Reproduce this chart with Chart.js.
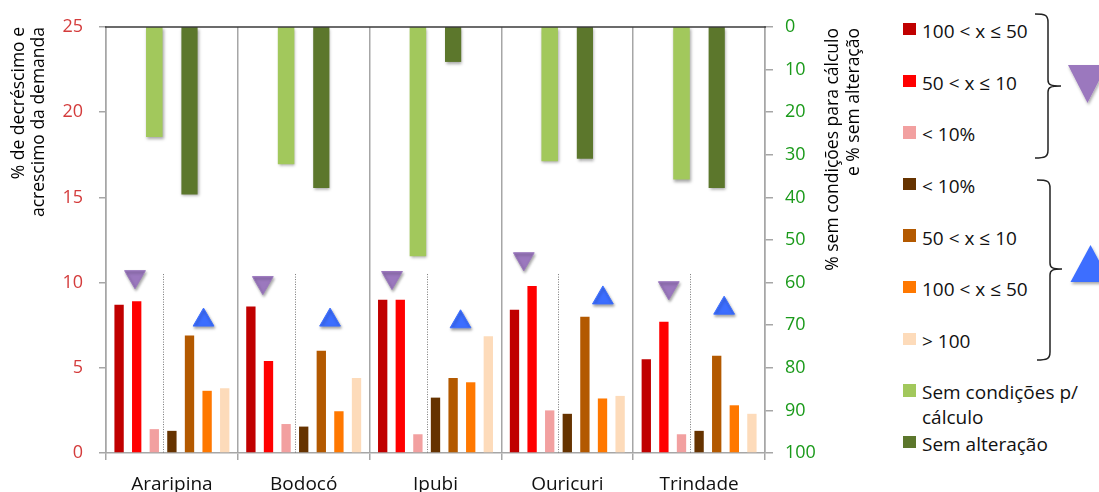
<!DOCTYPE html>
<html lang="pt">
  <head>
    <meta charset="UTF-8" />
    <title>Decréscimo e acréscimo da demanda</title>
    <script src="https://cdn.jsdelivr.net/npm/chart.js"></script>
    <style>
      body { margin: 0; background: #fff; overflow: hidden; font-family: "Open Sans", sans-serif; }
      #wrap { position: relative; width: 1099px; height: 492px; overflow: hidden; }
      #grafico { position: absolute; left: 0; top: 0; }
      .leg-box { position: absolute; left: 903px; width: 12.5px; height: 12.5px; }
      .leg-txt { position: absolute; left: 922px; font-size: 19px; line-height: 25px; color: #111; white-space: nowrap; }
      #titulo-dir {
        position: absolute; left: 821px; top: 328px; width: 300px;
        transform: rotate(-90deg); transform-origin: 0 0;
        text-align: right; font-size: 17.5px; line-height: 21px; color: #000; white-space: nowrap;
      }
      #deco { position: absolute; left: 0; top: 0; }
    </style>
  </head>
  <body>
    <div id="wrap">
      <canvas id="grafico" width="880" height="520"></canvas>
      <div id="titulo-dir">% sem condições para cálculo<br />e % sem alteração</div>
      <div id="legenda"></div>
      <svg id="deco" width="1099" height="492">
        <defs>
          <filter id="sb" x="-20%" y="-20%" width="150%" height="150%">
            <feDropShadow dx="1" dy="2" stdDeviation="1.5" flood-color="#000" flood-opacity="0.35" />
          </filter>
        </defs>
        <path d="M1035 14 C1045 14 1048 15 1048 22 L1048 80 C1048 85 1051 86 1061 86 C1051 86 1048 87 1048 92 L1048 150 C1048 157 1045 158 1035 158"
              fill="none" stroke="#222" stroke-width="1.5" />
        <path d="M1037 180 C1047 180 1050 181 1050 188 L1050 263 C1050 268 1053 269 1062 269 C1053 269 1050 270 1050 275 L1050 352 C1050 359 1047 360 1037 360"
              fill="none" stroke="#222" stroke-width="1.5" />
        <polygon points="1068,65 1107,65 1087.5,103" fill="#9B78BE" filter="url(#sb)" />
        <polygon points="1090.5,245 1110.5,282 1070.5,282" fill="#3C6EFF" filter="url(#sb)" />
      </svg>
    </div>
    <script>
      const municipios = ["Araripina", "Bodocó", "Ipubi", "Ouricuri", "Trindade"];

      // decréscimo da demanda (eixo da esquerda)
      const dec100a50 = [8.7, 8.6, 9.0, 8.4, 5.5];
      const dec50a10 = [8.9, 5.4, 9.0, 9.8, 7.7];
      const decMenor10 = [1.4, 1.7, 1.1, 2.5, 1.1];
      // acréscimo da demanda
      const acrMenor10 = [1.3, 1.55, 3.25, 2.3, 1.3];
      const acr50a10 = [6.9, 6.0, 4.4, 8.0, 5.7];
      const acr100a50 = [3.65, 2.45, 4.15, 3.2, 2.8];
      const acrMaior100 = [3.8, 4.4, 6.85, 3.35, 2.3];

      // eixo da direita (0 no topo, 100 embaixo)
      const semCondicoes = [25.8, 32.2, 53.8, 31.5, 35.8];
      const semAlteracao = [39.3, 37.8, 8.2, 30.9, 37.8];

      // marcadores (triângulos): posição dentro do grupo e altura
      const setaBaixoX = [-0.28, -0.31, -0.33, -0.33, -0.23];
      const setaBaixoY = [10.35, 10.0, 10.3, 11.4, 9.7];
      const setaCimaX = [0.24, 0.2, 0.19, 0.27, 0.19];
      const setaCimaY = [7.8, 7.8, 7.7, 9.1, 8.5];

      const nomes = [
        "100 < x ≤ 50", "50 < x ≤ 10", "< 10%",
        "< 10%", "50 < x ≤ 10", "100 < x ≤ 50", "> 100",
        "Sem condições p/ cálculo", "Sem alteração",
      ];
      const cores = [
        "#C00000", "#FF0000", "#F2A0A0",
        "#663300", "#B35900", "#FF7800", "#FDDBBA",
        "#A2C85C", "#5C772C",
      ];
      const series = [dec100a50, dec50a10, decMenor10, acrMenor10, acr50a10, acr100a50, acrMaior100];

      const fonte = "'Open Sans', sans-serif";
      const Y_MAX = 25, Y2_MAX = 100;
      // converte % do eixo da direita para o eixo da esquerda (barra pendurada no topo)
      const pendurada = (p) => [Y_MAX, Y_MAX - (p * Y_MAX) / Y2_MAX];

      const datasets = series.map((valores, i) => ({
        type: "bar",
        label: nomes[i],
        data: valores,
        backgroundColor: cores[i],
        stack: "s" + i,
        barPercentage: 0.53,
        categoryPercentage: 0.935,
      }));
      datasets.push({
        type: "bar", label: nomes[7], data: semCondicoes.map(pendurada), backgroundColor: cores[7],
        stack: "s2", barPercentage: 0.94, categoryPercentage: 0.935, sombra: true,
      });
      datasets.push({
        type: "bar", label: nomes[8], data: semAlteracao.map(pendurada), backgroundColor: cores[8],
        stack: "s4", barPercentage: 0.92, categoryPercentage: 0.935, sombra: true,
      });
      // triângulos: posição fracionária no próprio eixo de categorias (sem parsing)
      datasets.push({
        type: "line", label: "decréscimo", showLine: false, parsing: false,
        data: municipios.map((m, i) => ({ x: i + setaBaixoX[i], y: setaBaixoY[i] })),
        pointStyle: "triangle", rotation: 180, pointRadius: 12,
        pointBackgroundColor: "#9B78BE", pointBorderColor: "#9B78BE", pointBorderWidth: 1, sombra: true,
      });
      datasets.push({
        type: "line", label: "acréscimo", showLine: false, parsing: false,
        data: municipios.map((m, i) => ({ x: i + setaCimaX[i], y: setaCimaY[i] })),
        pointStyle: "triangle", pointRadius: 12,
        pointBackgroundColor: "#3C6EFF", pointBorderColor: "#3C6EFF", pointBorderWidth: 1, sombra: true,
      });

      // sombra leve nas barras verdes e nos triângulos
      const sombra = {
        id: "sombra",
        beforeDatasetDraw(chart, args) {
          if (!chart.data.datasets[args.index].sombra) return;
          const ctx = chart.ctx;
          ctx.save();
          ctx.shadowColor = "rgba(0,0,0,0.35)";
          ctx.shadowBlur = 3;
          ctx.shadowOffsetX = 1;
          ctx.shadowOffsetY = 2;
        },
        afterDatasetDraw(chart, args) {
          if (chart.data.datasets[args.index].sombra) chart.ctx.restore();
        },
      };

      // linha pontilhada entre decréscimo e acréscimo + linha superior
      const separadores = {
        id: "separadores",
        beforeDatasetsDraw(chart) {
          const ctx = chart.ctx;
          const a = chart.getDatasetMeta(2).data;
          const b = chart.getDatasetMeta(3).data;
          const topo = chart.scales.y.getPixelForValue(10.5);
          const base = chart.scales.y.getPixelForValue(0);
          ctx.save();
          ctx.strokeStyle = "#777";
          ctx.lineWidth = 1;
          ctx.setLineDash([1, 1.5]);
          for (let i = 0; i < a.length; i++) {
            const x = Math.round((a[i].x + b[i].x) / 2) + 0.5;
            ctx.beginPath();
            ctx.moveTo(x, topo);
            ctx.lineTo(x, base);
            ctx.stroke();
          }
          ctx.restore();
        },
        afterDatasetsDraw(chart) {
          const { ctx, chartArea } = chart;
          ctx.save();
          ctx.strokeStyle = "#3a3a3a";
          ctx.lineWidth = 1.5;
          ctx.beginPath();
          ctx.moveTo(chartArea.left - 1, chartArea.top);
          ctx.lineTo(chartArea.right + 1, chartArea.top);
          ctx.stroke();
          ctx.restore();
        },
      };

      new Chart(document.getElementById("grafico"), {
        type: "bar",
        data: { labels: municipios, datasets: datasets },
        plugins: [sombra, separadores],
        options: {
          responsive: false,
          animation: false,
          events: [],
          layout: { padding: { top: 27, left: 0, right: 0, bottom: 0 } },
          plugins: { legend: { display: false }, tooltip: { enabled: false } },
          scales: {
            x: {
              type: "category",
              offset: true,
              grid: { offset: true, color: "#A6A6A6", lineWidth: 1.5, tickLength: 7 },
              border: { color: "#A6A6A6", width: 1.5 },
              ticks: { color: "#111", font: { family: fonte, size: 19 }, padding: 13 },
              afterFit(s) { s.height = 67; },
            },
            y: {
              position: "left",
              min: 0,
              max: Y_MAX,
              stacked: false,
              ticks: { stepSize: 5, color: "#D43C3C", font: { family: fonte, size: 18 }, padding: 16 },
              grid: { drawOnChartArea: false, color: "#A6A6A6", lineWidth: 1.5, tickLength: 7 },
              border: { color: "#A6A6A6", width: 1.5 },
              title: {
                display: true,
                text: ["% de decréscimo e", "acrescimo da demanda"],
                align: "end",
                color: "#000",
                font: { family: fonte, size: 17.5, lineHeight: 1.15 },
                padding: { top: 9, bottom: 0 },
              },
              afterFit(s) { s.width = 106; },
            },
            y2: {
              position: "right",
              reverse: true,
              min: 0,
              max: Y2_MAX,
              ticks: { stepSize: 10, color: "#1A9A1A", font: { family: fonte, size: 18 }, padding: 12 },
              grid: { drawOnChartArea: false, color: "#A6A6A6", lineWidth: 1.5, tickLength: 8 },
              border: { color: "#A6A6A6", width: 1.5 },
              afterFit(s) { s.width = 115; },
            },
          },
        },
      });

      // legenda à direita
      const legenda = document.getElementById("legenda");
      nomes.forEach((nome, i) => {
        const centro = 31.7 + i * 51.6;
        const txt = i === 7 ? "Sem condições p/<br>cálculo" : nome.replace("<", "&lt;").replace(">", "&gt;");
        legenda.innerHTML += `
          <div class="leg-box" style="top:${centro - 8.75}px;background:${cores[i]}"></div>
          <div class="leg-txt" style="top:${centro - 12.5}px">${txt}</div>
        `;
      });
    </script>
  </body>
</html>
